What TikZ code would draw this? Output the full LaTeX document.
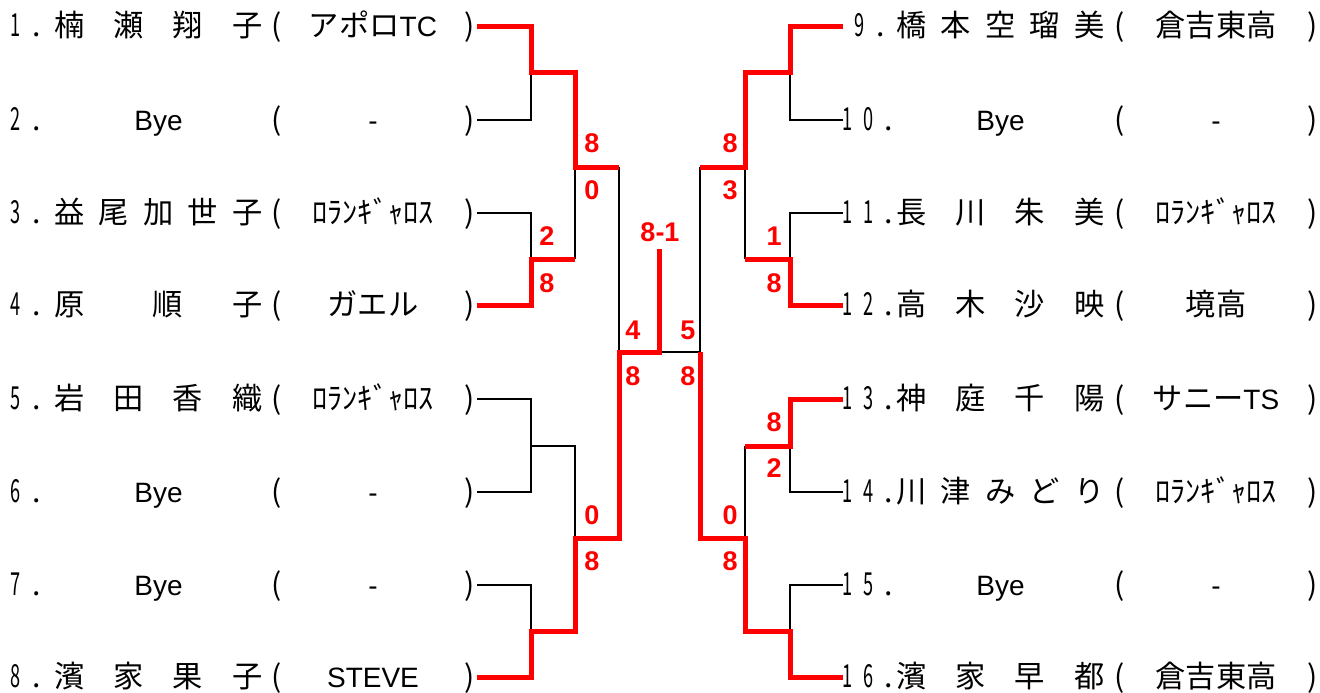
\documentclass[tikz,border=0pt]{standalone}
\usepackage{fontspec}
\usepackage{graphicx}
\setmainfont{Liberation Sans}
\newfontfamily\jp[Scale=1.08]{Noto Sans CJK JP}
\newcommand\nar[1]{\scalebox{0.6}[1.05]{#1}}

\begin{document}
\begin{tikzpicture}[x=1pt,y=-1pt,
  txt/.style={font=\fontsize{28}{34}\selectfont, inner sep=0pt, anchor=base},
  score/.style={font=\fontsize{27}{32}\selectfont\bfseries, text=red, inner sep=0pt},
  lose/.style={line width=2.6pt},
  win/.style={red, line width=5pt}]
\useasboundingbox (0,0) rectangle (1320,693);

% left half
\foreach \i/\y/\nm/\tm in {
  1/27/{\jp 楠\hfill 瀬\hfill 翔\hfill 子}/{{\jp アポロ}TC},
  2/120/{Bye}/{-},
  3/213/{\jp 益\hfill 尾\hfill 加\hfill 世\hfill 子}/{\jp ﾛﾗﾝｷﾞｬﾛｽ},
  4/305/{\jp 原\hspace{\stretch{1.36}}順\hfill 子}/{\jp ガエル},
  5/399/{\jp 岩\hfill 田\hfill 香\hfill 織}/{\jp ﾛﾗﾝｷﾞｬﾛｽ},
  6/492/{Bye}/{-},
  7/585/{Bye}/{-},
  8/677/{\jp 濱\hfill 家\hfill 果\hfill 子}/{STEVE}}
{
  \coordinate (p\i) at (477,\y);
  \node[txt, anchor=base west] (num\i) at (10,\y+10) {\jp\nar{\i}\kern12pt.};
  \node[txt] (name\i) at (158.5,\y+10) {\makebox[208pt]{\nm}};
  \node[txt] (lp\i) at (276.5,\y+10) {\jp(};
  \node[txt] (team\i) at (373,\y+10) {\tm};
  \node[txt] (rp\i) at (470,\y+10) {\jp)};
}

% right half
\foreach \i/\y/\nx/\nt/\nm/\tm in {
  9/27/854/{\nar{9}\kern12pt.}/{\jp 橋\hfill 本\hfill 空\hfill 瑠\hfill 美}/{\jp 倉吉東高},
  10/120/842/{\nar{1}\kern11pt\nar{0}\kern11pt.}/{Bye}/{-},
  11/213/842/{\nar{1}\kern11pt\nar{1}\kern11pt.}/{\jp 長\hfill 川\hfill 朱\hfill 美}/{\jp ﾛﾗﾝｷﾞｬﾛｽ},
  12/305/842/{\nar{1}\kern11pt\nar{2}\kern11pt.}/{\jp 高\hfill 木\hfill 沙\hfill 映}/{\jp 境高},
  13/399/842/{\nar{1}\kern11pt\nar{3}\kern11pt.}/{\jp 神\hfill 庭\hfill 千\hfill 陽}/{{\jp サニー}TS},
  14/492/842/{\nar{1}\kern11pt\nar{4}\kern11pt.}/{\jp 川\hfill 津\hfill み\hfill ど\hfill り}/{\jp ﾛﾗﾝｷﾞｬﾛｽ},
  15/585/842/{\nar{1}\kern11pt\nar{5}\kern11pt.}/{Bye}/{-},
  16/677/842/{\nar{1}\kern11pt\nar{6}\kern11pt.}/{\jp 濱\hfill 家\hfill 早\hfill 都}/{\jp 倉吉東高}}
{
  \coordinate (p\i) at (843,\y);
  \node[txt, anchor=base west] (num\i) at (\nx,\y+10) {\jp\nt};
  \node[txt] (name\i) at (1000.5,\y+10) {\makebox[208pt]{\nm}};
  \node[txt] (lp\i) at (1119.5,\y+10) {\jp(};
  \node[txt] (team\i) at (1216,\y+10) {\tm};
  \node[txt] (rp\i) at (1312.5,\y+10) {\jp)};
}

% match points
\coordinate (m1) at (531,73);
\coordinate (m2) at (531,259);
\coordinate (m3) at (531,446);
\coordinate (m4) at (531,631);
\coordinate (m5) at (575,167);
\coordinate (m6) at (575,538);
\coordinate (m7) at (619,352);
\coordinate (n1) at (790,73);
\coordinate (n2) at (790,259);
\coordinate (n3) at (790,446);
\coordinate (n4) at (790,631);
\coordinate (n5) at (745,167);
\coordinate (n6) at (745,538);
\coordinate (n7) at (700,352);
\coordinate (fin) at (659,352);

% losers
\draw[lose] (p2) -| (m1);
\draw[lose] (p3) -| (m2);
\draw[lose] (m2 -| m5) -- (m5);
\draw[lose] (m5 -| m7) -- (m7);
\draw[lose] (p5) -| (m3) |- (p6);
\draw[lose] (m3) -| (m6);
\draw[lose] (p7) -| (m4);
\draw[lose] (fin) -- (n7) -- (n5 -| n7);
\draw[lose] (p10) -| (n1);
\draw[lose] (p11) -| (n2);
\draw[lose] (n2 -| n5) -- (n5);
\draw[lose] (p14) -| (n3);
\draw[lose] (n3 -| n6) -- (n6);
\draw[lose] (p15) -| (n4);

% winners
\draw[win] (p1) -| (m1) -| (m5) -- (m5 -| m7);
\draw[win] (p4) -| (m2) -- (m2 -| m5);
\draw[win] (p8) -| (m4) -| (m6) -| (m7) -- (fin) -- ++(0,-103);
\draw[win] (p9) -| (n1) -| (n5) -- (n5 -| n7);
\draw[win] (p12) -| (n2) -- (n2 -| n5);
\draw[win] (p13) -| (n3) -- (n3 -| n6);
\draw[win] (p16) -| (n4) -| (n6) -| (n7);

% scores
\foreach \s/\x/\y/\t in {a/592/143/8, b/592/190/0, c/547/236/2, d/547/283/8,
  e/633/330/4, f/633/376/8, g/592/515/0, h/592/561/8,
  j/730/143/8, k/730/190/3, l/774/236/1, m/774/283/8,
  o/688/330/5, q/688/376/8, r/774/422/8, s/774/468/2,
  t/730/515/0, u/730/561/8, v/660/232/8-1}
  \node[score] (sc\s) at (\x,\y) {\t};
\end{tikzpicture}
\end{document}
